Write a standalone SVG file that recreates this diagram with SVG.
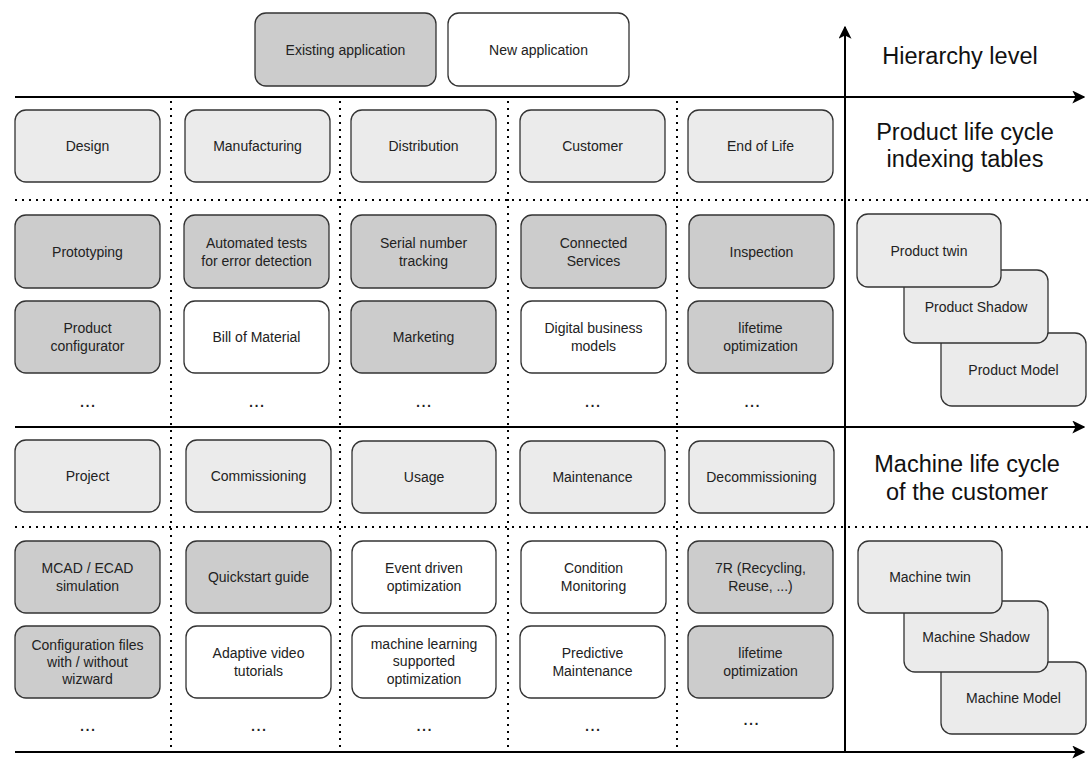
<svg xmlns="http://www.w3.org/2000/svg" width="1089" height="765" viewBox="0 0 1089 765">
<defs>
<marker id="arr" viewBox="0 0 10 10" refX="9" refY="5" markerWidth="6.5" markerHeight="6.5" markerUnits="strokeWidth" orient="auto">
<path d="M0,0 L10,5 L0,10 L2.5,5 Z" fill="#000"/>
</marker>
<style>
.b{stroke:#333333;stroke-width:1.3}
.ex{fill:#cccccc}
.nw{fill:#ffffff}
.hd{fill:#ebebeb}
.t{font-family:"Liberation Sans",Arial,sans-serif;font-size:14px;fill:#222222;text-anchor:middle;dominant-baseline:central}
.d{font-family:"Liberation Sans",Arial,sans-serif;font-size:20px;fill:#222222;text-anchor:middle}
.big{font-family:"Liberation Sans",Arial,sans-serif;font-size:23.5px;fill:#111111;text-anchor:middle}
.ax{stroke:#000;stroke-width:2;fill:none}
.dot{stroke:#000;stroke-width:2;stroke-dasharray:2 5;fill:none}
</style>
</defs>
<rect width="1089" height="765" fill="#ffffff"/>

<g id="connectors">
<line class="dot" x1="15" y1="200" x2="1089" y2="200"/>
<line class="dot" x1="15" y1="527" x2="1089" y2="527"/>
<line class="dot" x1="171" y1="101" x2="171" y2="751"/>
<line class="dot" x1="340" y1="101" x2="340" y2="751"/>
<line class="dot" x1="508" y1="101" x2="508" y2="751"/>
<line class="dot" x1="677" y1="101" x2="677" y2="751"/>
<line class="ax" x1="15" y1="97" x2="1084" y2="97" marker-end="url(#arr)"/>
<line class="ax" x1="15" y1="427" x2="1084" y2="427" marker-end="url(#arr)"/>
<line class="ax" x1="15" y1="752" x2="1084" y2="752" marker-end="url(#arr)"/>
<line class="ax" x1="845" y1="752" x2="845" y2="27" marker-end="url(#arr)"/>
</g>

<g id="legend-existing"><rect class="b ex" x="255" y="13" width="181" height="73" rx="11"/><text class="t" x="345.5" y="49.5">Existing application</text></g>
<g id="legend-new"><rect class="b nw" x="448" y="13" width="181" height="73" rx="11"/><text class="t" x="538.5" y="49.5">New application</text></g>

<g id="label-hierarchy"><text class="big" x="960" y="64">Hierarchy level</text></g>
<g id="label-product"><text class="big" x="965" y="140">Product life cycle</text><text class="big" x="965" y="167">indexing tables</text></g>
<g id="label-machine"><text class="big" x="967" y="472">Machine life cycle</text><text class="big" x="967" y="500">of the customer</text></g>

<!-- Product header row -->
<g id="design"><rect class="b hd" x="15" y="110" width="145" height="72" rx="11"/><text class="t" x="87.5" y="146">Design</text></g>
<g id="manufacturing"><rect class="b hd" x="185" y="110" width="145" height="72" rx="11"/><text class="t" x="257.5" y="146">Manufacturing</text></g>
<g id="distribution"><rect class="b hd" x="351" y="110" width="145" height="72" rx="11"/><text class="t" x="423.5" y="146">Distribution</text></g>
<g id="customer"><rect class="b hd" x="520" y="110" width="145" height="72" rx="11"/><text class="t" x="592.5" y="146">Customer</text></g>
<g id="end-of-life"><rect class="b hd" x="688" y="110" width="145" height="72" rx="11"/><text class="t" x="760.5" y="146">End of Life</text></g>

<!-- Product row 1 -->
<g id="prototyping"><rect class="b ex" x="15" y="215" width="145" height="73" rx="11"/><text class="t" x="87.5" y="251.5">Prototyping</text></g>
<g id="automated-tests"><rect class="b ex" x="184" y="215" width="145" height="73" rx="11"/><text class="t" x="256.5" y="242.5">Automated tests</text><text class="t" x="256.5" y="260.5">for error detection</text></g>
<g id="serial-number"><rect class="b ex" x="351" y="215" width="145" height="73" rx="11"/><text class="t" x="423.5" y="242.5">Serial number</text><text class="t" x="423.5" y="260.5">tracking</text></g>
<g id="connected-services"><rect class="b ex" x="521" y="215" width="145" height="73" rx="11"/><text class="t" x="593.5" y="242.5">Connected</text><text class="t" x="593.5" y="260.5">Services</text></g>
<g id="inspection"><rect class="b ex" x="689" y="215" width="145" height="73" rx="11"/><text class="t" x="761.5" y="251.5">Inspection</text></g>

<!-- Product row 2 -->
<g id="product-configurator"><rect class="b ex" x="15" y="301" width="145" height="72" rx="11"/><text class="t" x="87.5" y="328">Product</text><text class="t" x="87.5" y="346">configurator</text></g>
<g id="bill-of-material"><rect class="b nw" x="184" y="301" width="145" height="72" rx="11"/><text class="t" x="256.5" y="337">Bill of Material</text></g>
<g id="marketing"><rect class="b ex" x="351" y="301" width="145" height="72" rx="11"/><text class="t" x="423.5" y="337">Marketing</text></g>
<g id="digital-business"><rect class="b nw" x="521" y="301" width="145" height="72" rx="11"/><text class="t" x="593.5" y="328">Digital business</text><text class="t" x="593.5" y="346">models</text></g>
<g id="lifetime-opt-1"><rect class="b ex" x="688" y="301" width="145" height="72" rx="11"/><text class="t" x="760.5" y="328">lifetime</text><text class="t" x="760.5" y="346">optimization</text></g>

<g id="dots-product">
<text class="d" x="87.5" y="407">...</text>
<text class="d" x="256.5" y="407">...</text>
<text class="d" x="423.5" y="407">...</text>
<text class="d" x="592.5" y="407">...</text>
<text class="d" x="752" y="407">...</text>
</g>

<!-- Product twin stack -->
<g id="product-model"><rect class="b hd" x="941" y="333" width="145" height="73" rx="11"/><text class="t" x="1013.5" y="369.5">Product Model</text></g>
<g id="product-shadow"><rect class="b hd" x="904" y="270" width="144" height="73" rx="11"/><text class="t" x="976" y="306.5">Product Shadow</text></g>
<g id="product-twin"><rect class="b hd" x="857" y="214" width="144" height="73" rx="11"/><text class="t" x="929" y="250.5">Product twin</text></g>

<!-- Machine header row -->
<g id="project"><rect class="b hd" x="15" y="440" width="145" height="72" rx="11"/><text class="t" x="87.5" y="476">Project</text></g>
<g id="commissioning"><rect class="b hd" x="186" y="440" width="145" height="72" rx="11"/><text class="t" x="258.5" y="476">Commissioning</text></g>
<g id="usage"><rect class="b hd" x="352" y="441" width="144" height="72" rx="11"/><text class="t" x="424" y="477">Usage</text></g>
<g id="maintenance"><rect class="b hd" x="520" y="441" width="145" height="72" rx="11"/><text class="t" x="592.5" y="477">Maintenance</text></g>
<g id="decommissioning"><rect class="b hd" x="689" y="441" width="145" height="72" rx="11"/><text class="t" x="761.5" y="477">Decommissioning</text></g>

<!-- Machine row 1 -->
<g id="mcad"><rect class="b ex" x="15" y="541" width="145" height="72" rx="11"/><text class="t" x="87.5" y="568">MCAD / ECAD</text><text class="t" x="87.5" y="586">simulation</text></g>
<g id="quickstart"><rect class="b ex" x="186" y="541" width="145" height="72" rx="11"/><text class="t" x="258.5" y="577">Quickstart guide</text></g>
<g id="event-driven"><rect class="b nw" x="352" y="541" width="144" height="72" rx="11"/><text class="t" x="424" y="568">Event driven</text><text class="t" x="424" y="586">optimization</text></g>
<g id="condition-monitoring"><rect class="b nw" x="521" y="541" width="145" height="72" rx="11"/><text class="t" x="593.5" y="568">Condition</text><text class="t" x="593.5" y="586">Monitoring</text></g>
<g id="seven-r"><rect class="b ex" x="688" y="541" width="145" height="72" rx="11"/><text class="t" x="760.5" y="568">7R (Recycling,</text><text class="t" x="760.5" y="586">Reuse, ...)</text></g>

<!-- Machine row 2 -->
<g id="config-files"><rect class="b ex" x="15" y="626" width="145" height="72" rx="11"/><text class="t" x="87.5" y="645">Configuration files</text><text class="t" x="87.5" y="662">with / without</text><text class="t" x="87.5" y="679">wizward</text></g>
<g id="adaptive-video"><rect class="b nw" x="186" y="626" width="145" height="72" rx="11"/><text class="t" x="258.5" y="653">Adaptive video</text><text class="t" x="258.5" y="671">tutorials</text></g>
<g id="ml-optimization"><rect class="b nw" x="352" y="626" width="144" height="72" rx="11"/><text class="t" x="424" y="644">machine learning</text><text class="t" x="424" y="661">supported</text><text class="t" x="424" y="679">optimization</text></g>
<g id="predictive-maintenance"><rect class="b nw" x="520" y="626" width="145" height="72" rx="11"/><text class="t" x="592.5" y="653">Predictive</text><text class="t" x="592.5" y="671">Maintenance</text></g>
<g id="lifetime-opt-2"><rect class="b ex" x="688" y="626" width="145" height="72" rx="11"/><text class="t" x="760.5" y="653">lifetime</text><text class="t" x="760.5" y="671">optimization</text></g>

<g id="dots-machine">
<text class="d" x="87.5" y="731">...</text>
<text class="d" x="258.5" y="731">...</text>
<text class="d" x="424" y="731">...</text>
<text class="d" x="592.5" y="731">...</text>
<text class="d" x="751" y="725">...</text>
</g>

<!-- Machine twin stack -->
<g id="machine-model"><rect class="b hd" x="941" y="662" width="145" height="72" rx="11"/><text class="t" x="1013.5" y="698">Machine Model</text></g>
<g id="machine-shadow"><rect class="b hd" x="904" y="601" width="144" height="71" rx="11"/><text class="t" x="976" y="636.5">Machine Shadow</text></g>
<g id="machine-twin"><rect class="b hd" x="858" y="541" width="144" height="72" rx="11"/><text class="t" x="930" y="577">Machine twin</text></g>
</svg>
